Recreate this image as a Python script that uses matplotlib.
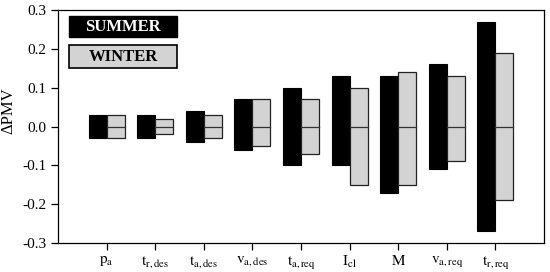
import matplotlib
matplotlib.use("Agg")
import matplotlib.pyplot as plt
from matplotlib.patches import Rectangle
from matplotlib.ticker import FuncFormatter
import numpy as np

plt.rcParams['font.family'] = ['Liberation Serif', 'DejaVu Serif']
plt.rcParams['mathtext.fontset'] = 'stix'

categories = [r'$\mathrm{p_a}$', r'$\mathrm{t_{r,des}}$', r'$\mathrm{t_{a,des}}$',
              r'$\mathrm{v_{a,des}}$', r'$\mathrm{t_{a,req}}$', r'$\mathrm{I_{cl}}$',
              r'$\mathrm{M}$', r'$\mathrm{v_{a,req}}$', r'$\mathrm{t_{r,req}}$']
summer_high = [0.03, 0.03, 0.04, 0.07, 0.10, 0.13, 0.13, 0.16, 0.27]
summer_low = [-0.03, -0.03, -0.04, -0.06, -0.10, -0.10, -0.17, -0.11, -0.27]
winter_high = [0.03, 0.02, 0.03, 0.07, 0.07, 0.10, 0.14, 0.13, 0.19]
winter_low = [-0.03, -0.02, -0.03, -0.05, -0.07, -0.15, -0.15, -0.09, -0.19]

fig = plt.figure(figsize=(5.5, 2.72), dpi=100)
ax = fig.add_axes([58/550, 1 - 243/272, 486/550, 233/272])

x = np.arange(1, len(categories) + 1)
w = 0.37
sh = np.array(summer_high); sl = np.array(summer_low)
wh = np.array(winter_high); wl = np.array(winter_low)
ax.bar(x - w/2, sh - sl, bottom=sl, width=w, color='black', edgecolor='black', linewidth=0.8)
ax.bar(x + w/2, wh - wl, bottom=wl, width=w, color='#d3d3d3', edgecolor='#222222', linewidth=0.9)
for xi in x:
    ax.plot([xi, xi + w], [0, 0], color='#333333', linewidth=0.9)

ax.set_xlim(0, 10)
ax.set_ylim(-0.3, 0.3)
ax.set_xticks(x)
ax.set_xticklabels(categories)
ax.set_yticks(np.arange(-0.3, 0.31, 0.1))
ax.yaxis.set_major_formatter(FuncFormatter(lambda v, p: f'{v:.1f}' if abs(v) > 1e-9 else '0.0'))
ax.tick_params(axis='both', direction='out', length=5, width=0.9, labelsize=11)
ax.tick_params(axis='x', pad=3, labelsize=11)
ax.set_ylabel('ΔPMV', fontsize=12)
ax.yaxis.set_label_coords(-0.085, 0.57)
for s in ax.spines.values():
    s.set_linewidth(0.9)

ax.add_patch(Rectangle((0.023, 0.884), 0.222, 0.090, transform=ax.transAxes,
                       facecolor='black', edgecolor='black', linewidth=1))
ax.text(0.134, 0.927, 'SUMMER', transform=ax.transAxes, color='white',
        fontsize=12, fontweight='bold', ha='center', va='center')
ax.add_patch(Rectangle((0.023, 0.751), 0.222, 0.099, transform=ax.transAxes,
                       facecolor='#d3d3d3', edgecolor='black', linewidth=1.2))
ax.text(0.134, 0.798, 'WINTER', transform=ax.transAxes, color='black',
        fontsize=12, fontweight='bold', ha='center', va='center')

fig.savefig('out.png', dpi=100)
